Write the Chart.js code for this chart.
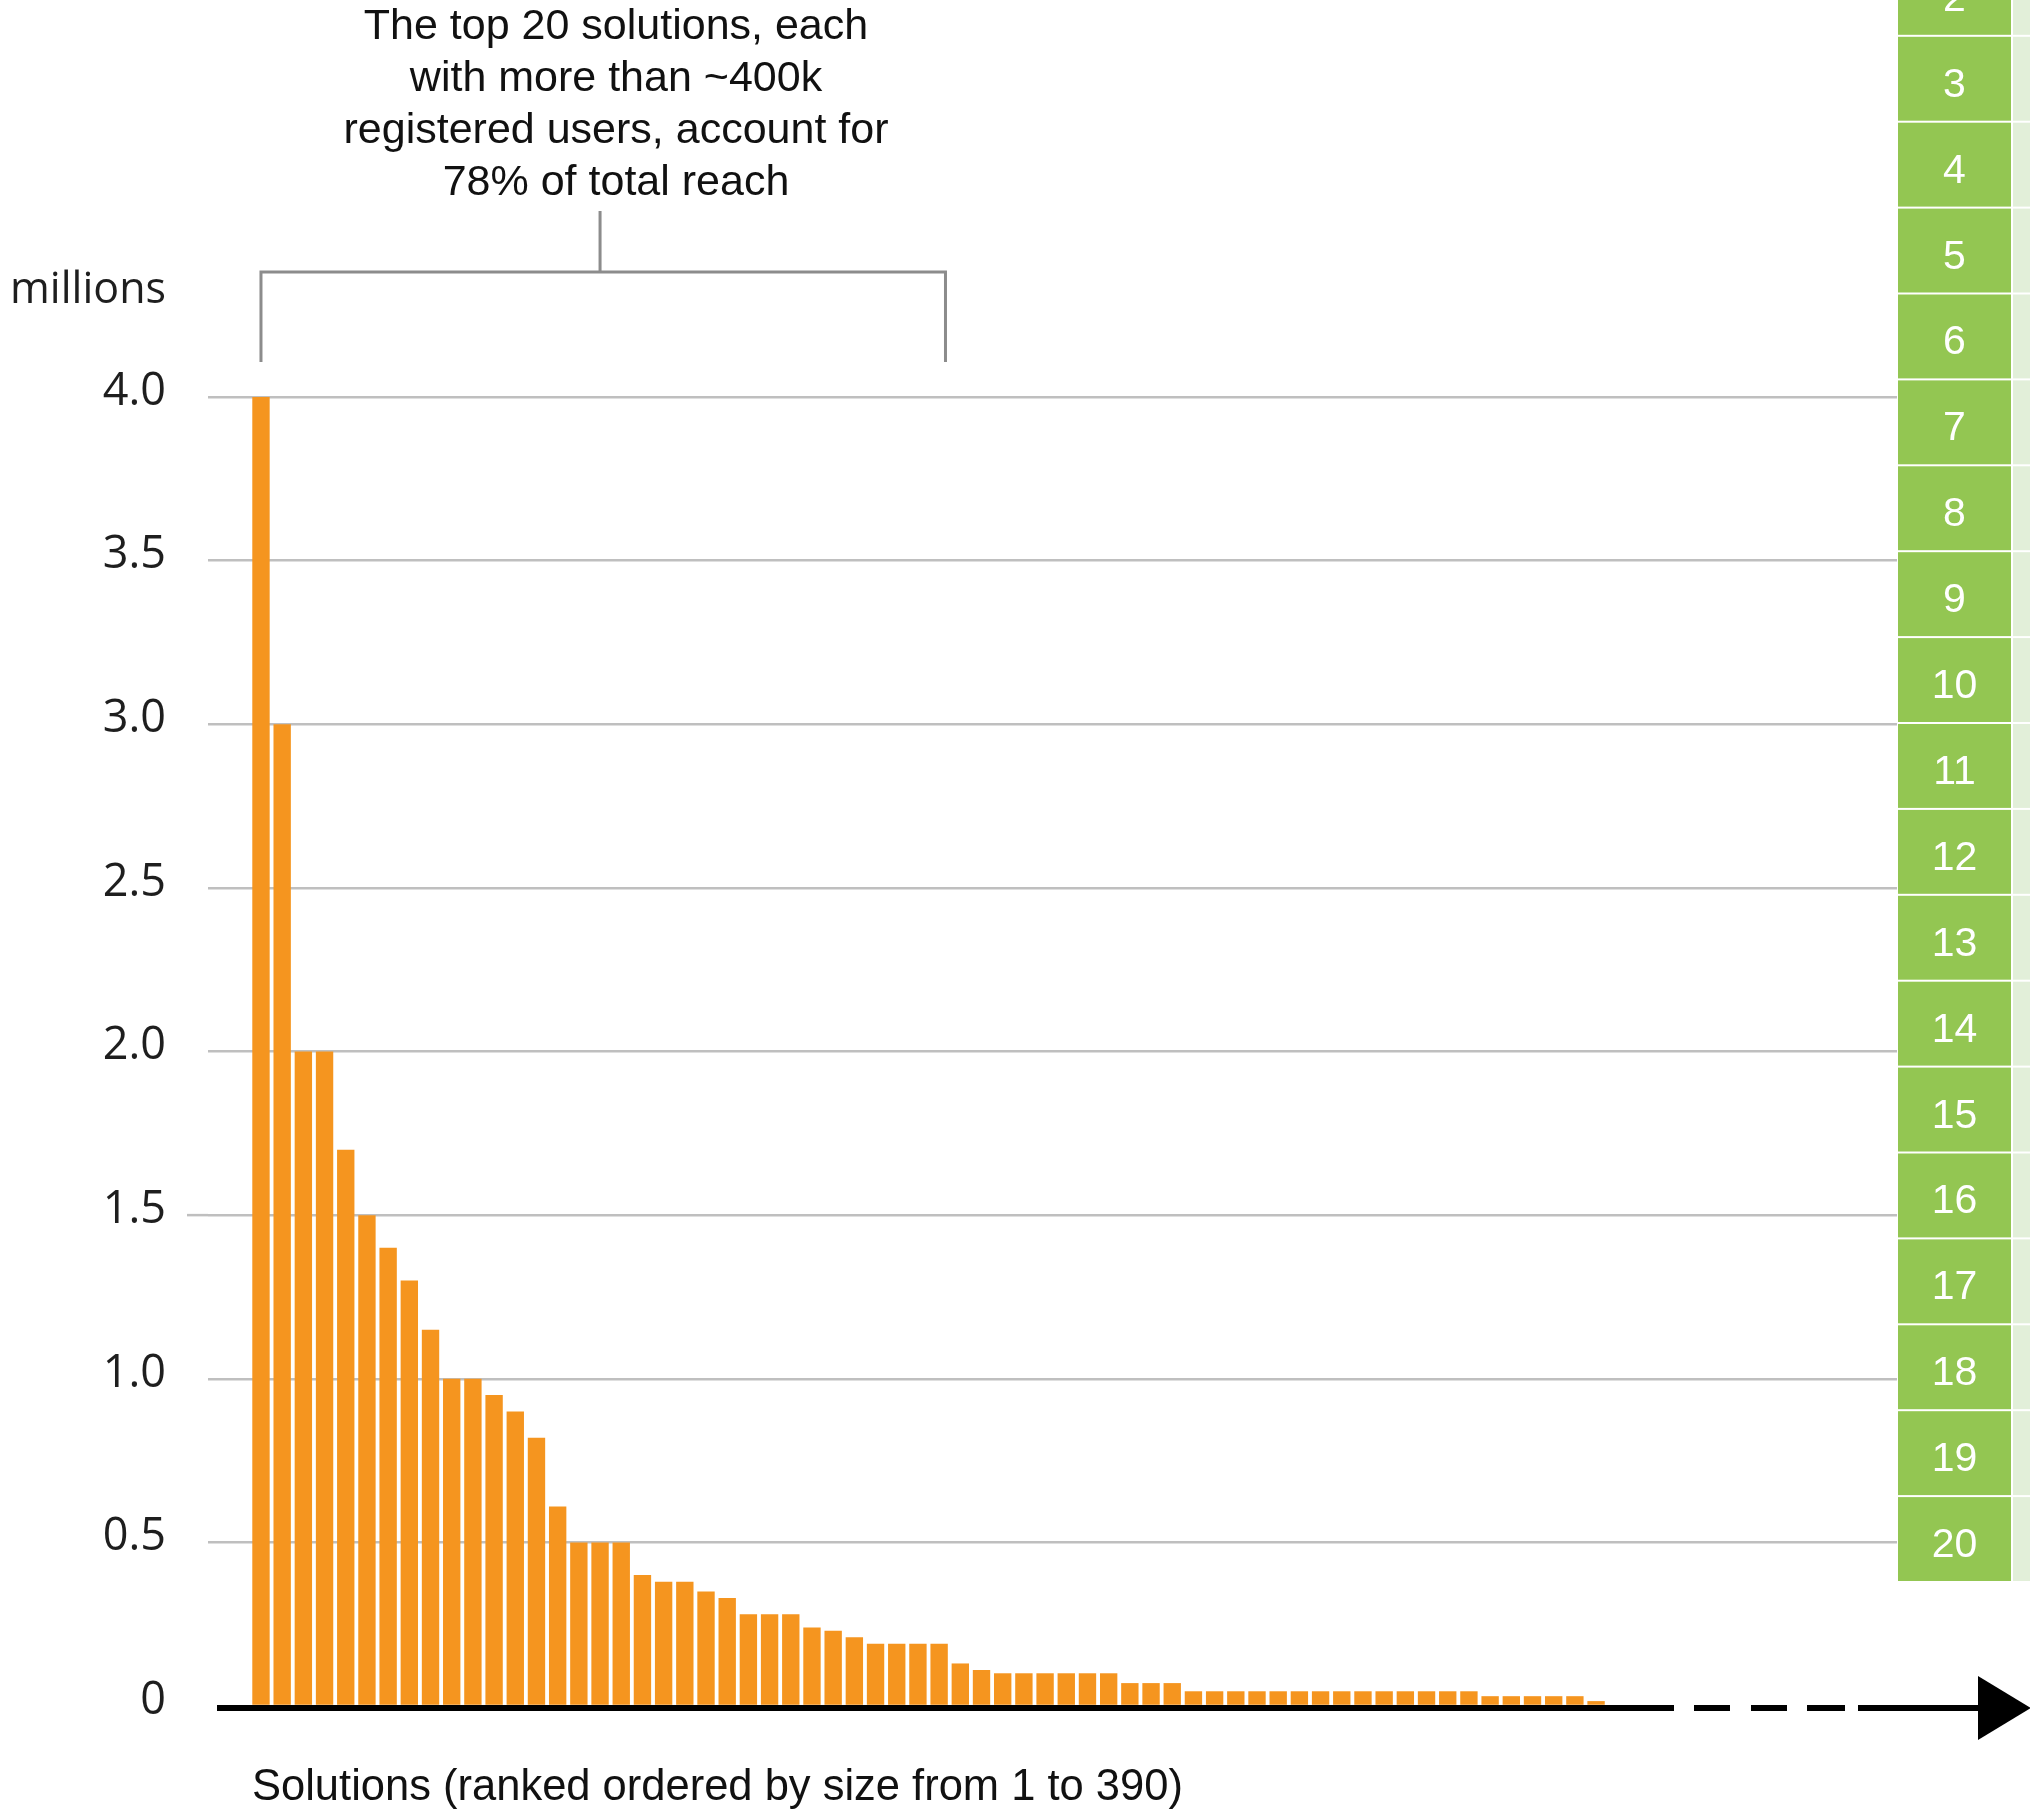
<!DOCTYPE html>
<html>
<head>
<meta charset="utf-8">
<script src="https://cdn.jsdelivr.net/npm/chart.js@4/dist/chart.umd.min.js"></script>
<style>
  html, body { margin: 0; padding: 0; background: #ffffff; overflow: hidden; }
  #wrap { position: relative; width: 2030px; height: 1812px; }
</style>
</head>
<body>
<div id="wrap"><canvas id="chart" width="2030" height="1812"></canvas></div>
<script>
// Solution rank (1 = largest) and registered users in millions
const solutionRanks = [
  1, 2, 3, 4, 5, 6, 7, 8, 9, 10, 11, 12, 13, 14, 15, 16,
  17, 18, 19, 20, 21, 22, 23, 24, 25, 26, 27, 28, 29, 30, 31, 32,
  33, 34, 35, 36, 37, 38, 39, 40, 41, 42, 43, 44, 45, 46, 47, 48,
  49, 50, 51, 52, 53, 54, 55, 56, 57, 58, 59, 60, 61, 62, 63, 64
];
const reachMillions = [
  4.0, 3.0, 2.0, 2.0, 1.7, 1.5, 1.4, 1.3, 1.15, 1.0, 1.0, 0.95, 0.9, 0.82, 0.61, 0.5,
  0.5, 0.5, 0.4, 0.38, 0.38, 0.35, 0.33, 0.28, 0.28, 0.28, 0.24, 0.23, 0.21, 0.19, 0.19, 0.19,
  0.19, 0.13, 0.11, 0.10, 0.10, 0.10, 0.10, 0.10, 0.10, 0.07, 0.07, 0.07, 0.045, 0.045, 0.045, 0.045,
  0.045, 0.045, 0.045, 0.045, 0.045, 0.045, 0.045, 0.045, 0.045, 0.045, 0.03, 0.03, 0.03, 0.03, 0.03, 0.015
];

// Value axis ticks
const yTickValues = [0, 0.5, 1.0, 1.5, 2.0, 2.5, 3.0, 3.5, 4.0];
const yTickLabels = ['0', '0.5', '1.0', '1.5', '2.0', '2.5', '3.0', '3.5', '4.0'];

// Rank column on the right
const topRankLabels = ['1', '2', '3', '4', '5', '6', '7', '8', '9', '10',
  '11', '12', '13', '14', '15', '16', '17', '18', '19', '20'];

// Texts
const noteLines = [
  'The top 20 solutions, each',
  'with more than ~400k',
  'registered users, account for',
  '78% of total reach'
];
const unitLabel = 'millions';
const axisTitle = 'Solutions (ranked ordered by size from 1 to 390)';

const ORANGE = '#f5951f';
const GREEN = '#93c652';
const PALE_GREEN = '#e2efd9';

const points = solutionRanks.map((r, i) => ({ x: r, y: reachMillions[i] }));

// Everything drawn around the plot: axis arrow, bracket, notes, rank column
const decorations = {
  id: 'decorations',
  beforeDatasetsDraw(chart) {
    const ctx = chart.ctx;
    const y = chart.scales.y;
    const area = chart.chartArea;
    // the 1.5 gridline reaches a little further left
    ctx.save();
    ctx.strokeStyle = '#bfbfbf';
    ctx.lineWidth = 2.5;
    const yy = y.getPixelForValue(1.5);
    ctx.beginPath();
    ctx.moveTo(area.left - 21, yy);
    ctx.lineTo(area.left, yy);
    ctx.stroke();
    ctx.restore();
  },
  afterDatasetsDraw(chart) {
    const ctx = chart.ctx;
    const x = chart.scales.x;
    const y = chart.scales.y;
    const area = chart.chartArea;
    const y0 = y.getPixelForValue(0) + 2;

    ctx.save();

    // horizontal axis: solid, broken, then arrow
    ctx.strokeStyle = '#000000';
    ctx.fillStyle = '#000000';
    ctx.lineWidth = 6;
    ctx.lineCap = 'butt';
    ctx.beginPath();
    ctx.moveTo(area.left + 9, y0);
    ctx.lineTo(1674, y0);
    [[1694, 1730], [1751, 1787], [1807, 1845]].forEach(([a, b]) => {
      ctx.moveTo(a, y0);
      ctx.lineTo(b, y0);
    });
    ctx.moveTo(1858, y0);
    ctx.lineTo(1982, y0);
    ctx.stroke();
    ctx.beginPath();
    ctx.moveTo(1978, y0 - 32);
    ctx.lineTo(2031, y0);
    ctx.lineTo(1978, y0 + 32);
    ctx.closePath();
    ctx.fill();

    // bracket over the leading solutions
    const bl = x.getPixelForValue(1);
    const br = x.getPixelForValue(33.3);
    const bm = x.getPixelForValue(17);
    const bTop = area.top - 125;
    const bBottom = area.top - 35;
    ctx.strokeStyle = '#8c8c8c';
    ctx.lineWidth = 3;
    ctx.beginPath();
    ctx.moveTo(bl, bBottom);
    ctx.lineTo(bl, bTop);
    ctx.lineTo(br, bTop);
    ctx.lineTo(br, bBottom);
    ctx.moveTo(bm, bTop);
    ctx.lineTo(bm, bTop - 61);
    ctx.stroke();

    // note text
    ctx.fillStyle = '#111111';
    ctx.font = '43px "Liberation Sans", Arial, sans-serif';
    ctx.textAlign = 'center';
    ctx.textBaseline = 'alphabetic';
    noteLines.forEach((line, i) => ctx.fillText(line, 616, 39 + i * 52));

    // unit label
    ctx.fillStyle = '#1e1e1e';
    ctx.font = '43px "Open Sans", sans-serif';
    ctx.textAlign = 'right';
    ctx.fillText(unitLabel, 166, 303);

    // axis title
    ctx.fillStyle = '#111111';
    ctx.font = '43.5px "Liberation Sans", Arial, sans-serif';
    ctx.textAlign = 'left';
    ctx.fillText(axisTitle, 252, 1800);

    // rank column
    const colLeft = area.right + 1;
    const colWidth = 113;
    const cellH = 85.9;
    const colBottom = 1582;
    ctx.font = '41px "Liberation Sans", Arial, sans-serif';
    ctx.textAlign = 'center';
    topRankLabels.forEach((label, i) => {
      const bottom = colBottom - (topRankLabels.length - 1 - i) * cellH;
      const top = bottom - cellH;
      ctx.fillStyle = GREEN;
      ctx.fillRect(colLeft, top + 1, colWidth, cellH - 2);
      ctx.fillStyle = PALE_GREEN;
      ctx.fillRect(colLeft + colWidth + 2, top + 1, 30, cellH - 2);
      ctx.fillStyle = '#ffffff';
      ctx.fillText(label, colLeft + colWidth / 2, bottom - 25);
    });

    ctx.restore();
  }
};

new Chart(document.getElementById('chart'), {
  type: 'bar',
  data: {
    datasets: [{
      data: points,
      backgroundColor: ORANGE,
      borderWidth: 0,
      barPercentage: 1.0,
      categoryPercentage: 0.82
    }]
  },
  options: {
    responsive: false,
    animation: false,
    devicePixelRatio: 1,
    layout: { padding: { top: 397, bottom: 106, left: 0, right: 133 } },
    plugins: { legend: { display: false }, tooltip: { enabled: false }, title: { display: false } },
    scales: {
      x: {
        type: 'linear',
        display: false,
        offset: false,
        min: -1.5,
        max: 78.2
      },
      y: {
        min: 0,
        max: 4.0,
        afterFit(scale) { scale.width = 208; },
        afterBuildTicks(scale) { scale.ticks = yTickValues.map(v => ({ value: v })); },
        border: { display: false },
        grid: {
          drawTicks: false,
          lineWidth: 2.5,
          color: ctx => (ctx.tick && ctx.tick.value === 0) ? 'rgba(0,0,0,0)' : '#bfbfbf'
        },
        ticks: {
          padding: 42,
          labelOffset: -5,
          color: '#1e1e1e',
          font: { family: '"Open Sans", sans-serif', size: 45 },
          callback: (value) => {
            const i = yTickValues.indexOf(value);
            return i >= 0 ? yTickLabels[i] : '';
          }
        }
      }
    }
  },
  plugins: [decorations]
});
</script>
</body>
</html>
